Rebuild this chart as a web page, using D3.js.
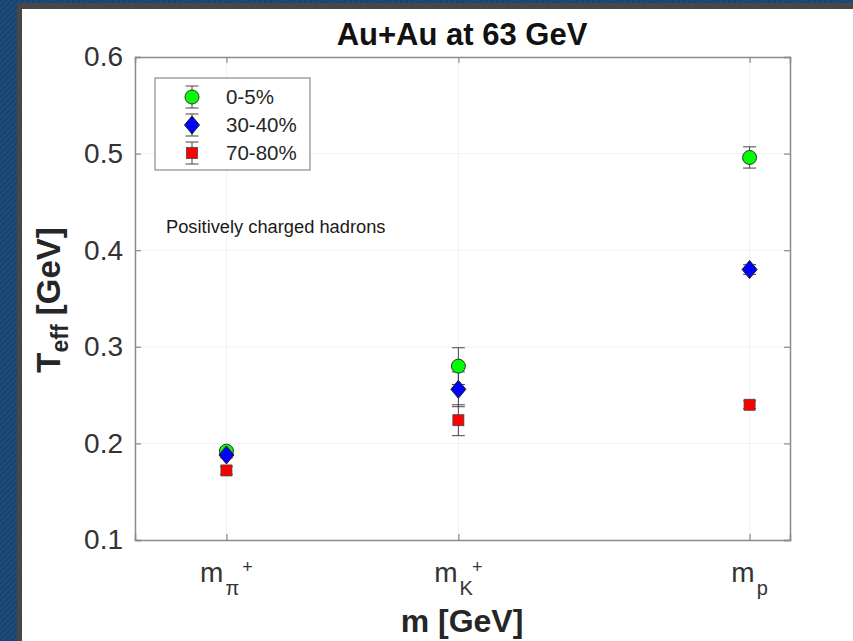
<!DOCTYPE html>
<html>
<head>
<meta charset="utf-8">
<script src="https://cdn.jsdelivr.net/npm/d3@7"></script>
<style>
  html, body { margin: 0; padding: 0; background: #fff; }
  svg { display: block; }
</style>
</head>
<body>
<svg id="chart" width="853" height="641"></svg>
<script>
// Particle masses (GeV) used as x positions
const particles = ["pi", "K", "p"];
const masses = [0.1396, 0.4937, 0.9383];

// Effective temperature T_eff (GeV) and uncertainties per centrality class
const centralities = ["0-5%", "30-40%", "70-80%"];
const teff0005 = [0.192, 0.280, 0.496];
const err0005  = [0.003, 0.019, 0.011];
const teff3040 = [0.188, 0.256, 0.380];
const err3040  = [0.003, 0.018, 0.005];
const teff7080 = [0.172, 0.224, 0.240];
const err7080  = [0.004, 0.016, 0.004];

const yTicks = [0.1, 0.2, 0.3, 0.4, 0.5, 0.6];

const W = 853, H = 641;
const svg = d3.select("#chart");

// Frame: textured blue border with a dark inner edge
const defs = svg.append("defs");
const pat = defs.append("pattern").attr("id", "stripes")
  .attr("width", 4).attr("height", 4)
  .attr("patternUnits", "userSpaceOnUse")
  .attr("patternTransform", "rotate(45)");
pat.append("rect").attr("width", 4).attr("height", 4).attr("fill", "#1d4c7c");
pat.append("rect").attr("width", 1.5).attr("height", 4).attr("fill", "#163f69");

svg.append("rect").attr("width", W).attr("height", H).attr("fill", "url(#stripes)");
svg.append("rect").attr("x", 17).attr("y", 3).attr("width", W - 17).attr("height", H - 3).attr("fill", "#474747");
svg.append("rect").attr("x", 22).attr("y", 9).attr("width", W - 22).attr("height", H - 9).attr("fill", "#ffffff");

const plot = { left: 135, top: 57, right: 790, bottom: 540 };
const x = d3.scaleLinear().domain([0, 1]).range([plot.left, plot.right]);
const y = d3.scaleLinear().domain([0.1, 0.6]).range([plot.bottom, plot.top]);

const font = "'Liberation Sans', Arial, Helvetica, sans-serif";
const txt = "#262626";
const axisCol = "#8a8a8a";

// Grid
const grid = svg.append("g");
grid.selectAll("line.gy").data(yTicks.slice(1, -1)).join("line")
  .attr("x1", plot.left).attr("x2", plot.right)
  .attr("y1", d => y(d)).attr("y2", d => y(d))
  .attr("stroke", "#f1f1f1").attr("stroke-width", 1);
grid.selectAll("line.gx").data(masses).join("line")
  .attr("y1", plot.top).attr("y2", plot.bottom)
  .attr("x1", d => x(d)).attr("x2", d => x(d))
  .attr("stroke", "#f1f1f1").attr("stroke-width", 1);

// Axes (box with inward ticks)
const yAxis = d3.axisLeft(y).tickValues(yTicks).tickSize(-6).tickPadding(12).tickFormat(d3.format(".1f"));
const yAxisR = d3.axisRight(y).tickValues(yTicks).tickSize(-6).tickFormat("");
const xAxis = d3.axisBottom(x).tickValues(masses).tickSize(-6).tickFormat("");
const xAxisT = d3.axisTop(x).tickValues(masses).tickSize(-6).tickFormat("");

function styleAxis(g) {
  g.select(".domain").attr("stroke", axisCol).attr("stroke-width", 1.5);
  g.selectAll(".tick line").attr("stroke", axisCol).attr("stroke-width", 1.2);
  g.selectAll(".tick text").attr("fill", "#333").attr("font-family", font).attr("font-size", 28);
}
svg.append("g").attr("transform", `translate(${plot.left},0)`).call(yAxis).call(styleAxis);
svg.append("g").attr("transform", `translate(${plot.right},0)`).call(yAxisR).call(styleAxis);
svg.append("g").attr("transform", `translate(0,${plot.bottom})`).call(xAxis).call(styleAxis);
svg.append("g").attr("transform", `translate(0,${plot.top})`).call(xAxisT).call(styleAxis);

// x tick labels: m with particle subscripts
const xLabels = [
  { sub: "\u03C0", sup: "+" },
  { sub: "K", sup: "+" },
  { sub: "p", sup: "" }
];
xLabels.forEach((lab, i) => {
  const t = svg.append("text")
    .attr("x", x(masses[i])).attr("y", 582).attr("text-anchor", "middle")
    .attr("font-family", font).attr("fill", "#333").attr("font-size", 28);
  t.append("tspan").text("m");
  t.append("tspan").attr("font-size", 20).attr("dy", 13).attr("dx", 2).text(lab.sub);
  if (lab.sup) t.append("tspan").attr("font-size", 18).attr("dy", -22).attr("dx", lab.sub === "K" ? -1 : 3).text(lab.sup);
});

// Titles
svg.append("text").attr("x", 462).attr("y", 45).attr("text-anchor", "middle")
  .attr("font-family", font).attr("font-weight", "bold").attr("font-size", 31).attr("fill", "#111")
  .text("Au+Au at 63 GeV");
svg.append("text").attr("x", 462).attr("y", 632).attr("text-anchor", "middle")
  .attr("font-family", font).attr("font-weight", "bold").attr("font-size", 32).attr("fill", txt)
  .text("m [GeV]");
const yl = svg.append("text").attr("transform", "translate(60,300) rotate(-90)").attr("text-anchor", "middle")
  .attr("font-family", font).attr("font-weight", "bold").attr("font-size", 33).attr("fill", txt);
yl.append("tspan").text("T");
yl.append("tspan").attr("font-size", 23).attr("dy", 8).text("eff");
yl.append("tspan").attr("dy", -8).text(" [GeV]");

svg.append("text").attr("x", 166).attr("y", 233)
  .attr("font-family", font).attr("font-size", 18.3).attr("fill", "#1a1a1a")
  .text("Positively charged hadrons");

// Series drawing
const series = [
  { name: centralities[0], vals: teff0005, errs: err0005, shape: "circle", fill: "#00ff00" },
  { name: centralities[1], vals: teff3040, errs: err3040, shape: "diamond", fill: "#0000ff" },
  { name: centralities[2], vals: teff7080, errs: err7080, shape: "square", fill: "#ff0000" }
];

function drawMarker(g, shape, fill) {
  if (shape === "circle") {
    g.append("circle").attr("r", 7).attr("fill", fill).attr("stroke", "#333").attr("stroke-width", 1);
  } else if (shape === "diamond") {
    g.append("path").attr("d", "M0,-9L7.5,0L0,9L-7.5,0Z").attr("fill", fill).attr("stroke", "#222").attr("stroke-width", 1);
  } else {
    g.append("rect").attr("x", -5.5).attr("y", -5.5).attr("width", 11).attr("height", 11)
      .attr("fill", fill).attr("stroke", "#444").attr("stroke-width", 0.8);
  }
}
function drawErr(g, cx, yTop, yBot) {
  g.append("line").attr("x1", cx).attr("x2", cx).attr("y1", yTop).attr("y2", yBot).attr("stroke", "#444").attr("stroke-width", 1);
  [yTop, yBot].forEach(yy => g.append("line").attr("x1", cx - 6.5).attr("x2", cx + 6.5)
    .attr("y1", yy).attr("y2", yy).attr("stroke", "#444").attr("stroke-width", 1));
}

// Error bars first, then markers: squares, circles, diamonds on top
const errLayer = svg.append("g");
series.forEach(s => {
  s.vals.forEach((v, i) => drawErr(errLayer, x(masses[i]), y(v + s.errs[i]), y(v - s.errs[i])));
});
const markLayer = svg.append("g");
[series[2], series[0], series[1]].forEach(s => {
  s.vals.forEach((v, i) => {
    const mg = markLayer.append("g").attr("transform", `translate(${x(masses[i])},${y(v)})`);
    drawMarker(mg, s.shape, s.fill);
  });
});

// Legend
const leg = svg.append("g");
leg.append("rect").attr("x", 155).attr("y", 78).attr("width", 155).attr("height", 92)
  .attr("fill", "#fff").attr("stroke", "#8a8a8a").attr("stroke-width", 1.2);
series.forEach((s, i) => {
  const cy = 97 + i * 28;
  drawErr(leg, 192, cy - 11, cy + 11);
  const mg = leg.append("g").attr("transform", `translate(192,${cy})`);
  drawMarker(mg, s.shape, s.fill);
  leg.append("text").attr("x", 226).attr("y", cy + 7)
    .attr("font-family", font).attr("font-size", 20.5).attr("fill", txt).text(s.name);
});
</script>
</body>
</html>
